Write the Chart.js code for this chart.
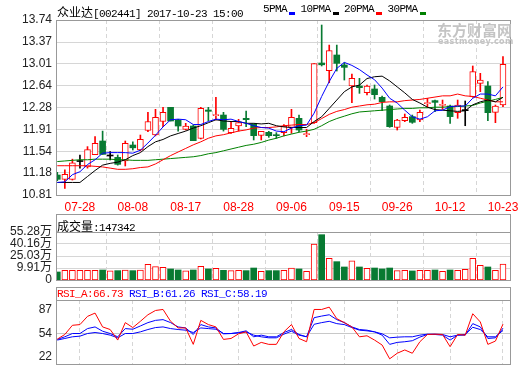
<!DOCTYPE html>
<html>
<head>
<meta charset="utf-8">
<script src="https://cdn.jsdelivr.net/npm/chart.js@4.4.0/dist/chart.umd.min.js"></script>
<style>
  body { margin: 0; background: #fff; }
  #wrap { position: relative; width: 520px; height: 365px; overflow: hidden; }
  canvas { position: absolute; left: 0; }
  .t { position: absolute; font: 11px "Liberation Mono", "Noto Sans CJK SC", monospace; letter-spacing: -0.6px; white-space: pre; line-height: 12px; color: #000; }
  .cjk { font: 12px "Noto Sans CJK SC", sans-serif; letter-spacing: 0; }
  .box { position: absolute; left: 56px; width: 455px; border: 1px solid #999; box-sizing: border-box; }
  .wm { position: absolute; color: #c4c4c4; font-weight: bold; white-space: nowrap; }
</style>
</head>
<body>
<div id="wrap">
  <canvas id="cMain" width="520" height="215" style="top:0"></canvas>
  <div class="box" style="top:214px;height:19px"></div>
  <canvas id="cVol" width="520" height="62" style="top:225px"></canvas>
  <div class="box" style="top:287px;height:14px"></div>
  <canvas id="cRsi" width="520" height="71" style="top:294px"></canvas>

  <div class="t" style="left:57px;top:3px"><span class="cjk">众业达</span>[002441] 2017-10-23 15:00</div>
  <div id="legend"></div>
  <div class="wm" style="left:437px;top:19px;font-size:15px;font-family:'Noto Sans CJK SC'">东方财富网</div>
  <div class="wm" style="left:438px;top:37px;font-size:8px;font-family:'DejaVu Sans';letter-spacing:0.4px">eastmoney.com</div>
  <div class="t" style="left:57px;top:217px"><span class="cjk">成交量</span>:147342</div>
  <div class="t" style="left:57px;top:288px"><span style="color:#f00">RSI_A:66.73</span> <span style="color:#00f">RSI_B:61.26</span> <span style="color:#00f">RSI_C:58.19</span></div>
</div>
<script>
// tick labels on the time axis and their candle index
const dateTicks = ["07-28", "08-08", "08-17", "08-28", "09-06", "09-15", "09-26", "10-12", "10-23"];
const dateIdx = [3, 10, 17, 24, 31, 38, 45, 52, 59];
const priceTicks = [13.74, 13.37, 13.01, 12.64, 12.28, 11.91, 11.54, 11.18, 10.81];
const volTicks = [9.91, 25.03, 40.16, 55.28];
const volMin = -5.21;
const rsiTicks = [22, 54, 87];

// daily candles
const open = [11.145, 11.072, 11.07, 11.37, 11.28, 11.485, 11.714, 11.463, 11.44, 11.379,
  11.647, 11.563, 11.893, 11.814, 12.04, 12.278, 12.066, 11.91, 11.965, 11.759,
  12.233, 12.14, 12.149, 11.854, 11.965, 12.094, 11.999, 11.809, 11.859, 11.814,
  11.854, 11.943, 12.094, 11.82, 12.021, 13.02, 12.89, 13.154, 12.987, 12.635,
  12.635, 12.523, 12.585, 12.445, 12.30, 11.943, 12.055, 12.122, 12.066, 12.339,
  12.39, 12.311, 12.30, 12.188, 12.222, 12.456, 12.68, 12.635, 12.194, 12.317];
const close = [11.072, 11.156, 11.35, 11.37, 11.57, 11.675, 11.49, 11.463, 11.323, 11.675,
  11.60, 11.742, 12.04, 12.11, 12.194, 12.049, 11.965, 11.965, 11.72, 12.26,
  12.211, 12.15, 11.909, 11.926, 12.021, 12.071, 11.803, 11.876, 11.803, 11.803,
  11.965, 12.11, 11.898, 11.83, 13.01, 12.99, 13.227, 13.014, 12.947, 12.763,
  12.607, 12.635, 12.49, 12.373, 11.954, 12.066, 12.11, 12.027, 12.194, 12.35,
  12.361, 12.322, 12.122, 12.317, 12.222, 12.875, 12.735, 12.188, 12.30, 12.998];
const high = [11.19, 11.23, 11.41, 11.48, 11.62, 11.79, 11.88, 11.535, 11.48, 11.714,
  11.70, 11.814, 12.194, 12.244, 12.278, 12.278, 12.077, 12.01, 11.98, 12.278,
  12.278, 12.445, 12.194, 12.04, 12.077, 12.216, 11.999, 11.876, 11.876, 11.854,
  11.988, 12.244, 12.149, 11.909, 13.01, 13.656, 13.32, 13.32, 13.026, 12.836,
  12.763, 12.652, 12.652, 12.467, 12.317, 12.077, 12.166, 12.149, 12.233, 12.428,
  12.40, 12.40, 12.317, 12.40, 12.384, 12.97, 12.847, 12.707, 12.317, 13.126];
const low = [11.05, 10.92, 11.06, 11.26, 11.26, 11.485, 11.49, 11.396, 11.31, 11.296,
  11.563, 11.547, 11.87, 11.80, 11.954, 12.049, 11.88, 11.898, 11.72, 11.748,
  12.055, 12.066, 11.88, 11.842, 11.88, 11.954, 11.731, 11.731, 11.775, 11.759,
  11.798, 11.842, 11.87, 11.787, 12.01, 12.97, 12.69, 12.886, 12.735, 12.356,
  12.512, 12.484, 12.417, 12.222, 11.943, 11.898, 12.038, 12.01, 12.038, 12.278,
  12.205, 12.244, 12.01, 12.094, 11.97, 12.445, 12.54, 12.055, 12.021, 12.289];

// volume, 万
const vol = [4.9, 7.0, 7.0, 7.0, 7.0, 7.0, 7.4, 6.4, 6.6, 7.4,
  6.6, 7.4, 14.6, 11.6, 10.8, 8.7, 7.4, 6.2, 7.4, 12.1,
  8.7, 9.5, 7.0, 6.6, 7.0, 6.6, 9.9, 5.8, 6.6, 6.6,
  7.0, 9.9, 8.7, 5.8, 40.2, 51.9, 22.2, 17.9, 11.2, 18.8,
  11.2, 9.5, 9.9, 8.7, 9.9, 6.6, 7.0, 6.2, 7.0, 7.0,
  7.4, 5.8, 7.4, 7.0, 8.3, 22.2, 13.3, 11.2, 7.0, 14.73];

// moving averages as drawn
const ma5 = [11.02, 11.03, 11.15, 11.20, 11.32, 11.40, 11.51, 11.52, 11.52, 11.52,
  11.51, 11.56, 11.68, 11.81, 11.95, 12.07, 12.08, 12.07, 11.99, 11.99,
  12.04, 12.08, 12.07, 12.08, 12.04, 12.01, 11.97, 11.94, 11.93, 11.88,
  11.87, 11.93, 11.97, 11.98, 12.18, 12.46, 12.71, 12.93, 13.03, 12.98,
  12.91, 12.82, 12.74, 12.60, 12.43, 12.35, 12.23, 12.12, 12.08, 12.12,
  12.22, 12.23, 12.29, 12.30, 12.30, 12.43, 12.50, 12.50, 12.47, 12.62];
const ma10 = [11.02, 11.02, 11.02, 11.02, 11.12, 11.22, 11.31, 11.34, 11.36, 11.40,
  11.47, 11.52, 11.62, 11.70, 11.74, 11.80, 11.84, 11.88, 11.93, 11.97,
  12.02, 12.07, 12.05, 12.04, 12.04, 12.01, 12.01, 12.00, 12.01, 11.97,
  11.95, 11.94, 11.94, 11.94, 12.04, 12.12, 12.26, 12.40, 12.54, 12.62,
  12.65, 12.76, 12.79, 12.80, 12.72, 12.62, 12.52, 12.41, 12.35, 12.28,
  12.24, 12.23, 12.22, 12.21, 12.22, 12.32, 12.37, 12.40, 12.37, 12.445];
const ma20 = [11.30, 11.30, 11.30, 11.30, 11.30, 11.29, 11.28, 11.26, 11.24, 11.24,
  11.25, 11.27, 11.28, 11.33, 11.40, 11.47, 11.53, 11.59, 11.65, 11.70,
  11.76, 11.80, 11.82, 11.85, 11.88, 11.90, 11.93, 11.94, 11.94, 11.95,
  11.97, 11.98, 11.99, 11.99, 12.02, 12.09, 12.16, 12.21, 12.24, 12.28,
  12.30, 12.32, 12.33, 12.36, 12.37, 12.37, 12.39, 12.40, 12.41, 12.43,
  12.45, 12.47, 12.47, 12.50, 12.47, 12.46, 12.43, 12.40, 12.37, 12.37];
const ma30 = [11.37, 11.38, 11.39, 11.40, 11.40, 11.41, 11.41, 11.41, 11.40, 11.40,
  11.39, 11.39, 11.39, 11.40, 11.41, 11.42, 11.43, 11.44, 11.45, 11.47,
  11.50, 11.52, 11.55, 11.58, 11.61, 11.64, 11.66, 11.69, 11.73, 11.76,
  11.80, 11.83, 11.86, 11.88, 11.91, 11.97, 12.04, 12.09, 12.13, 12.17,
  12.20, 12.21, 12.22, 12.23, 12.24, 12.25, 12.26, 12.26, 12.27, 12.27,
  12.28, 12.28, 12.29, 12.29, 12.30, 12.31, 12.35, 12.38, 12.41, 12.445];

// RSI lines
const rsiA = [46.2, 52.6, 65.2, 66.2, 77.5, 82.0, 63.0, 59.4, 44.9, 68.9,
  62.1, 70.7, 79.7, 85.6, 87.0, 70.7, 61.6, 61.6, 39.0, 72.0,
  66.2, 63.0, 45.8, 47.1, 53.5, 56.2, 36.7, 41.7, 39.0, 39.0,
  56.2, 66.2, 47.1, 42.6, 87.0, 87.0, 90.2, 74.3, 68.9, 63.0,
  49.4, 50.8, 44.9, 38.1, 19.1, 26.8, 31.3, 26.8, 42.6, 52.6,
  53.0, 52.6, 35.8, 52.6, 51.7, 81.1, 69.8, 39.0, 43.5, 66.73];
const rsiB = [45.8, 49.4, 53.9, 53.9, 60.7, 63.0, 57.1, 53.9, 49.4, 60.7,
  59.8, 64.3, 68.9, 72.0, 73.0, 68.9, 63.0, 61.6, 52.6, 66.2,
  63.0, 61.6, 53.5, 53.9, 55.3, 57.6, 49.4, 51.7, 49.4, 49.4,
  55.3, 59.4, 52.6, 49.4, 75.7, 77.9, 79.7, 73.0, 68.9, 63.0,
  59.4, 58.5, 56.2, 51.7, 39.0, 41.7, 42.6, 44.0, 49.0, 52.6,
  52.6, 51.7, 44.9, 51.7, 51.7, 67.5, 63.0, 47.1, 48.0, 61.26];
const rsiC = [44.9, 47.1, 49.4, 50.3, 53.9, 55.3, 53.9, 51.7, 48.0, 53.9,
  53.9, 56.2, 59.4, 62.1, 63.0, 60.7, 59.4, 58.5, 55.3, 61.6,
  60.7, 59.8, 53.9, 53.9, 54.8, 56.2, 51.7, 49.4, 48.0, 48.0,
  53.0, 57.1, 51.7, 49.4, 66.6, 68.9, 70.7, 67.5, 66.2, 62.1,
  58.5, 57.6, 56.2, 53.5, 48.0, 48.9, 49.4, 49.4, 51.7, 53.0,
  53.0, 52.6, 49.4, 51.7, 52.6, 62.5, 59.4, 49.4, 49.4, 58.19];

const maNames = ["5PMA", "10PMA", "20PMA", "30PMA"];

const RED = "#ff0000", GREEN = "#087a32", BLUE = "#0000ff";
const GRID = "#d6d6d6", FRAME = "#999";
const maColors = [BLUE, "#000", RED, "#008000"];

Chart.defaults.font.family = '"Liberation Sans", "Noto Sans CJK SC", sans-serif';
Chart.defaults.font.size = 12;

const xs = open.map((_, i) => i);
const pts = arr => arr.map((v, i) => ({ x: i, y: v }));
const up = i => close[i] > open[i];
const candleColor = i => close[i] > open[i] ? RED : close[i] < open[i] ? GREEN : "#000";

// legend in the header line
const legend = document.getElementById("legend");
let lx = 263;
maNames.forEach((n, k) => {
  const s = document.createElement("div");
  s.className = "t";
  s.style.left = lx + "px";
  s.style.top = "3px";
  s.textContent = n;
  legend.appendChild(s);
  lx += n.length * 6 + 2;
  const r = document.createElement("div");
  r.style.cssText = `position:absolute;left:${lx}px;top:12px;width:6px;height:3px;background:${maColors[k]}`;
  legend.appendChild(r);
  lx += 11.5;
});

const frame = {
  id: "frame",
  afterDraw(c) {
    const a = c.chartArea, g = c.ctx;
    g.save();
    g.strokeStyle = FRAME;
    g.lineWidth = 1;
    g.strokeRect(Math.round(a.left) + 0.5, Math.round(a.top) + 0.5,
      Math.round(a.right - a.left), Math.round(a.bottom - a.top));
    g.restore();
  }
};

function xScale(showLabels) {
  return {
    type: "linear", min: -0.17, max: 59.93, offset: false,
    afterBuildTicks: s => { s.ticks = dateIdx.map(v => ({ value: v })); },
    afterFit: s => { s.height = showLabels ? 20 : 0; s.paddingLeft = 0; s.paddingRight = 0; },
    grid: { color: GRID, drawTicks: false },
    border: { display: false, dash: [4, 3] },
    ticks: {
      display: showLabels, color: RED, padding: 5, maxRotation: 0, autoSkip: false,
      callback: v => dateTicks[dateIdx.indexOf(v)]
    }
  };
}

function yScale(min, max, ticks, label, gridColor) {
  return {
    min, max,
    afterBuildTicks: s => { s.ticks = ticks.map(v => ({ value: v })); },
    afterFit: s => { s.width = 56; s.paddingTop = 0; s.paddingBottom = 0; },
    grid: { color: gridColor || GRID, drawTicks: false },
    border: { display: false },
    ticks: { color: "#222", padding: 4, autoSkip: false, callback: label }
  };
}

const base = {
  responsive: false, animation: false, events: [],
  plugins: { legend: { display: false }, tooltip: { enabled: false } }
};

const maSets = [ma5, ma10, ma20, ma30].map((d, k) => ({
  type: "line", data: pts(d), borderColor: maColors[k], borderWidth: 1,
  pointRadius: 0, tension: 0, order: 0
}));

new Chart(document.getElementById("cMain"), {
  type: "bar",
  data: {
    datasets: [
      ...maSets,
      {
        data: xs.map(i => ({ x: i, y: [open[i], close[i]] })),
        backgroundColor: xs.map(i => up(i) ? "#fff" : candleColor(i)),
        borderColor: xs.map(candleColor),
        borderWidth: xs.map(i => up(i) ? 1 : 0),
        borderSkipped: false, barThickness: 6, minBarLength: 1, grouped: false, order: 1
      },
      {
        data: xs.map(i => ({ x: i, y: [low[i], high[i]] })),
        backgroundColor: xs.map(candleColor),
        borderWidth: 0, barThickness: 1, grouped: false, order: 2
      }
    ]
  },
  options: {
    ...base,
    layout: { padding: { left: 0, right: 10, top: 20, bottom: 0 } },
    scales: {
      x: xScale(true),
      y: yScale(10.81, 13.74, priceTicks, v => v.toFixed(2))
    }
  },
  plugins: [frame]
});

new Chart(document.getElementById("cVol"), {
  type: "bar",
  data: {
    datasets: [{
      data: xs.map(i => ({ x: i, y: [volMin, vol[i]] })),
      backgroundColor: xs.map(i => close[i] >= open[i] ? "#fff" : GREEN),
      borderColor: xs.map(i => close[i] >= open[i] ? RED : GREEN),
      borderWidth: xs.map(i => close[i] >= open[i] ? 1 : 0),
      borderSkipped: false, barThickness: 6, grouped: false
    }]
  },
  options: {
    ...base,
    layout: { padding: { left: 0, right: 10, top: 7, bottom: 7 } },
    scales: {
      x: xScale(false),
      y: yScale(volMin, 55.28, [volMin, ...volTicks], v => v === volMin ? "0" : v.toFixed(2) + "万")
    }
  },
  plugins: [frame]
});

new Chart(document.getElementById("cRsi"), {
  type: "line",
  data: {
    datasets: [rsiA, rsiB, rsiC].map((d, k) => ({
      data: pts(d), borderColor: k === 0 ? RED : BLUE, borderWidth: 1, pointRadius: 0, tension: 0
    }))
  },
  options: {
    ...base,
    layout: { padding: { left: 0, right: 10, top: 6, bottom: 1 } },
    scales: {
      x: xScale(false),
      y: yScale(12, 100, rsiTicks, v => String(v),
        ctx => ctx.tick && ctx.tick.value === 54 ? "#c8c8c8" : "rgba(0,0,0,0)")
    }
  },
  plugins: [frame]
});
</script>
</body>
</html>
